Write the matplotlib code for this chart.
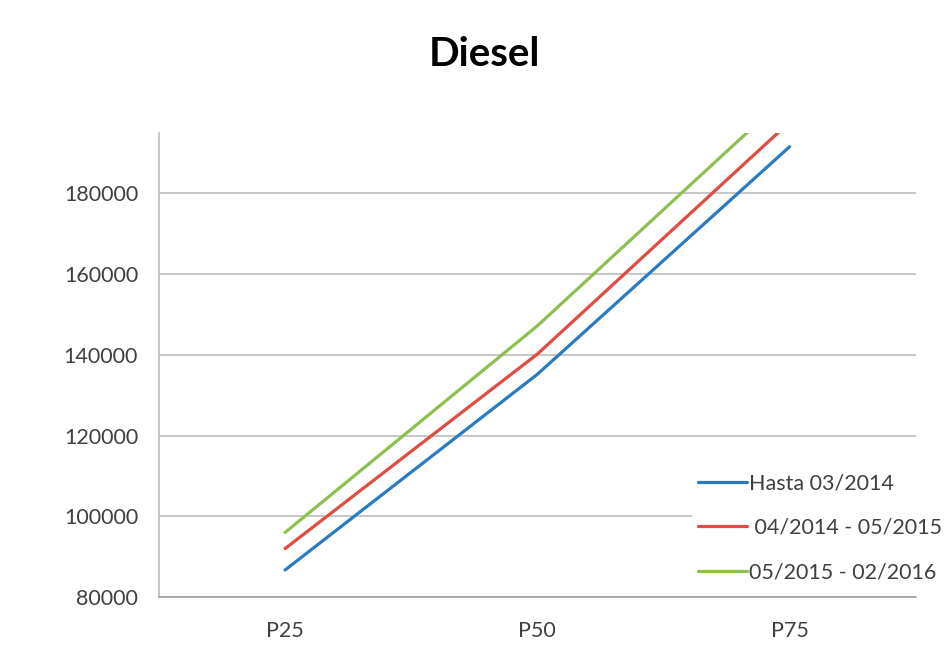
import matplotlib
matplotlib.use("Agg")
import matplotlib.pyplot as plt

plt.rcParams['font.family'] = ['Lato', 'DejaVu Sans']

categories = ["P25", "P50", "P75"]
hasta_2014 = [86700, 135200, 191600]
periodo_2014_2015 = [92000, 140200, 197700]
periodo_2015_2016 = [96000, 147200, 204800]
labels = ["Hasta 03/2014", " 04/2014 - 05/2015", "05/2015 - 02/2016"]
colors = ["#2A7BC0", "#E04B43", "#8DC04F"]

fig = plt.figure(figsize=(9.49, 6.55), dpi=100)
ax = fig.add_axes([0.1675, 0.0885, 0.7975, 0.7085])

x = range(len(categories))
for serie, lab, col in zip([hasta_2014, periodo_2014_2015, periodo_2015_2016], labels, colors):
    ax.plot(x, serie, color=col, linewidth=2.3, label=lab, solid_capstyle='round')

ax.set_xlim(-0.5, 2.5)
ax.set_ylim(80000, 195000)
ax.set_yticks(range(80000, 180001, 20000))
ax.set_xticks(list(x))
ax.set_xticklabels(categories)
ax.grid(axis='y', color='#BDBDBD', linewidth=1.2)
ax.set_axisbelow(True)
for s in ['top', 'right']:
    ax.spines[s].set_visible(False)
ax.spines['left'].set_color('#BDBDBD')
ax.spines['bottom'].set_color('#A0A0A0')
ax.spines['left'].set_linewidth(1.2)
ax.spines['bottom'].set_linewidth(1.2)
ax.tick_params(axis='both', length=0, labelsize=15.5, labelcolor='#404040')
ax.tick_params(axis='y', pad=15)
ax.tick_params(axis='x', pad=17)

fig.text(484 / 949, 1 - 54 / 655, "Diesel", fontsize=29, fontweight='bold',
         ha='center', va='center')

leg = ax.legend(loc='upper left', bbox_to_anchor=(681 / 949, 1 - 456 / 655),
                bbox_transform=fig.transFigure, frameon=True, framealpha=1,
                edgecolor='none', fontsize=15.5, handlelength=2.25,
                handletextpad=0.1, labelspacing=1.15, borderpad=0.3)
for t in leg.get_texts():
    t.set_color('#404040')

plt.savefig('out.png')
